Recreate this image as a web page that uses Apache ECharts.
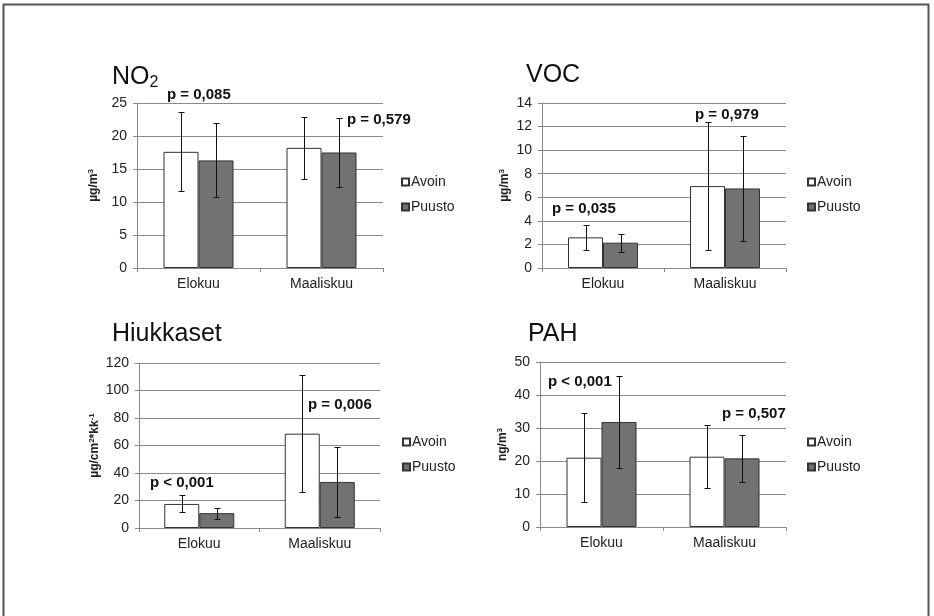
<!DOCTYPE html>
<html>
<head>
<meta charset="utf-8">
<script src="https://cdn.jsdelivr.net/npm/echarts@6/dist/echarts.min.js"></script>
<style>
  html, body { margin: 0; padding: 0; background: #fff; }
  #chart { width: 934px; height: 616px; }
</style>
</head>
<body>
<div id="chart"></div>
<script>
// Categories and groups
const categories = ['Elokuu', 'Maaliskuu'];
const groupNames = ['Avoin', 'Puusto'];

// NO2 (µg/m3): mean and standard deviation
const no2Avoin = [17.6, 18.2];
const no2AvoinSd = [6.0, 4.7];
const no2Puusto = [16.3, 17.5];
const no2PuustoSd = [5.6, 5.3];
const no2P = ['p = 0,085', 'p = 0,579'];

// VOC (µg/m3)
const vocAvoin = [2.6, 6.95];
const vocAvoinSd = [1.05, 5.45];
const vocPuusto = [2.15, 6.75];
const vocPuustoSd = [0.75, 4.45];
const vocP = ['p = 0,035', 'p = 0,979'];

// Hiukkaset (µg/cm2*kk-1)
const hiukAvoin = [17.5, 68.6];
const hiukAvoinSd = [6.2, 42.5];
const hiukPuusto = [10.8, 33.5];
const hiukPuustoSd = [3.9, 25.2];
const hiukP = ['p < 0,001', 'p = 0,006'];

// PAH (ng/m3)
const pahAvoin = [21.0, 21.3];
const pahAvoinSd = [13.5, 9.5];
const pahPuusto = [31.8, 20.8];
const pahPuustoSd = [14.0, 7.1];
const pahP = ['p < 0,001', 'p = 0,507'];

// Y axis ranges
const no2Ticks = { max: 25, interval: 5 };
const vocTicks = { max: 14, interval: 2 };
const hiukTicks = { max: 120, interval: 20 };
const pahTicks = { max: 50, interval: 10 };

const FONT = '"Liberation Sans", Arial, sans-serif';
const BAR_W = 35;
const AXIS_GREY = '#8a8a8a';
const TEXT_COL = '#222';

const panels = [
  {
    title: 'NO{sub|2}', unit: 'µg/m{sup|3}',
    avoin: no2Avoin, avoinSd: no2AvoinSd, puusto: no2Puusto, puustoSd: no2PuustoSd,
    pTexts: no2P, ticks: no2Ticks,
    grid: { left: 137, top: 103, width: 246, height: 165 }, nameGap: 36,
    titlePos: { left: 112, top: 63 }, legendPos: { left: 401, top: 175 },
    pPos: [[167, 95], [347, 120]]
  },
  {
    title: 'VOC', unit: 'µg/m{sup|3}',
    avoin: vocAvoin, avoinSd: vocAvoinSd, puusto: vocPuusto, puustoSd: vocPuustoSd,
    pTexts: vocP, ticks: vocTicks,
    grid: { left: 542, top: 103, width: 244, height: 165 }, nameGap: 30,
    titlePos: { left: 526, top: 63 }, legendPos: { left: 807, top: 175 },
    pPos: [[552, 209], [695, 115]]
  },
  {
    title: 'Hiukkaset', unit: 'µg/cm{sup|2}*kk{sup|-1}',
    avoin: hiukAvoin, avoinSd: hiukAvoinSd, puusto: hiukPuusto, puustoSd: hiukPuustoSd,
    pTexts: hiukP, ticks: hiukTicks,
    grid: { left: 139, top: 363, width: 241, height: 165 }, nameGap: 37,
    titlePos: { left: 112, top: 322 }, legendPos: { left: 402, top: 435 },
    pPos: [[150, 483], [308, 405]]
  },
  {
    title: 'PAH', unit: 'ng/m{sup|3}',
    avoin: pahAvoin, avoinSd: pahAvoinSd, puusto: pahPuusto, puustoSd: pahPuustoSd,
    pTexts: pahP, ticks: pahTicks,
    grid: { left: 540, top: 362, width: 246, height: 165 }, nameGap: 30,
    titlePos: { left: 528, top: 322 }, legendPos: { left: 807, top: 435 },
    pPos: [[548, 382], [722, 414]]
  }
];

// Error bar drawn around a bar shifted by `side` half-bar widths from the category centre
function errorBar(side) {
  return function (params, api) {
    const c = api.value(0);
    const lo = api.coord([c, api.value(1)]);
    const hi = api.coord([c, api.value(2)]);
    const x = Math.round(lo[0] + side * BAR_W / 2) + 0.5;
    const yLo = Math.round(lo[1]) + 0.5;
    const yHi = Math.round(hi[1]) + 0.5;
    const style = { stroke: '#111', lineWidth: 1 };
    return {
      type: 'group',
      children: [
        { type: 'line', shape: { x1: x, y1: yHi, x2: x, y2: yLo }, style },
        { type: 'line', shape: { x1: x - 3, y1: yHi, x2: x + 3, y2: yHi }, style },
        { type: 'line', shape: { x1: x - 3, y1: yLo, x2: x + 3, y2: yLo }, style }
      ]
    };
  };
}

function ranges(means, sds) {
  return means.map((m, i) => [i, m - sds[i], m + sds[i]]);
}

const option = {
  animation: false,
  backgroundColor: '#fff',
  textStyle: { fontFamily: FONT },
  title: [], grid: [], xAxis: [], yAxis: [], legend: [], series: [],
  graphic: [
    {
      type: 'polyline',
      shape: { points: [[3.5, 616], [3.5, 4.5], [928.5, 4.5], [928.5, 616]] },
      style: { stroke: '#555', lineWidth: 2, fill: null }
    }
  ]
};

panels.forEach((p, i) => {
  option.title.push({
    text: p.title,
    left: p.titlePos.left, top: p.titlePos.top, padding: 0,
    textStyle: {
      fontFamily: FONT, fontSize: 25, fontWeight: 'normal', color: '#111',
      rich: { sub: { fontFamily: FONT, fontSize: 16, color: '#111', verticalAlign: 'bottom', padding: [12, 0, 0, 0] } }
    }
  });
  option.grid.push(Object.assign({ containLabel: false }, p.grid));
  option.xAxis.push({
    type: 'category', gridIndex: i, data: categories,
    axisLine: { lineStyle: { color: AXIS_GREY, width: 1 } },
    axisTick: { show: true, alignWithLabel: false, length: 4, lineStyle: { color: AXIS_GREY } },
    axisLabel: { color: TEXT_COL, fontSize: 14, fontFamily: FONT, margin: 9 },
    splitLine: { show: false }
  });
  option.yAxis.push({
    type: 'value', gridIndex: i, min: 0, max: p.ticks.max, interval: p.ticks.interval,
    name: p.unit, nameLocation: 'middle', nameRotate: 90, nameGap: p.nameGap,
    nameTextStyle: {
      fontFamily: FONT, fontSize: 12, fontWeight: 'bold', color: TEXT_COL,
      rich: { sup: { fontFamily: FONT, fontSize: 8, fontWeight: 'bold', color: TEXT_COL, verticalAlign: 'top', padding: [0, 0, 6, 0] } }
    },
    axisLine: { show: true, lineStyle: { color: AXIS_GREY, width: 1 } },
    axisTick: { show: true, length: 4, lineStyle: { color: AXIS_GREY } },
    axisLabel: { color: TEXT_COL, fontSize: 14, fontFamily: FONT, margin: 10 },
    splitLine: { show: true, lineStyle: { color: AXIS_GREY, width: 1 } }
  });
  option.legend.push({
    data: groupNames, orient: 'vertical',
    left: p.legendPos.left, top: p.legendPos.top, padding: 0,
    itemWidth: 7, itemHeight: 7, itemGap: 11,
    icon: 'rect', selectedMode: false,
    textStyle: { fontFamily: FONT, fontSize: 14, color: TEXT_COL, padding: [0, 0, 0, -3] }
  });
  option.series.push(
    {
      type: 'bar', name: groupNames[0], xAxisIndex: i, yAxisIndex: i,
      data: p.avoin, barWidth: BAR_W, barGap: '0%',
      itemStyle: { color: '#ffffff', borderColor: '#333', borderWidth: 1 }
    },
    {
      type: 'bar', name: groupNames[1], xAxisIndex: i, yAxisIndex: i,
      data: p.puusto, barWidth: BAR_W, barGap: '0%',
      itemStyle: { color: '#727272', borderColor: '#333', borderWidth: 1 }
    },
    {
      type: 'custom', name: groupNames[0] + ' SD', xAxisIndex: i, yAxisIndex: i,
      data: ranges(p.avoin, p.avoinSd), renderItem: errorBar(-1), z: 5
    },
    {
      type: 'custom', name: groupNames[1] + ' SD', xAxisIndex: i, yAxisIndex: i,
      data: ranges(p.puusto, p.puustoSd), renderItem: errorBar(1), z: 5
    }
  );
  p.pTexts.forEach((t, k) => {
    option.graphic.push({
      type: 'text', z: 10,
      style: {
        text: t, x: p.pPos[k][0], y: p.pPos[k][1],
        font: 'bold 15px ' + FONT, fill: '#111', verticalAlign: 'middle'
      }
    });
  });
});

const chart = echarts.init(document.getElementById('chart'), null, { renderer: 'canvas' });
chart.setOption(option);
</script>
</body>
</html>
